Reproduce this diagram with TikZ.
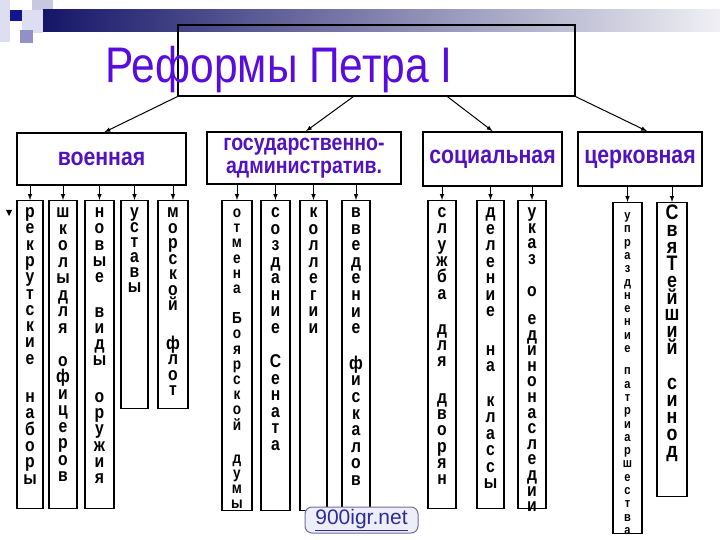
\documentclass[tikz,border=0pt]{standalone}
\usepackage{fontspec}
\setmainfont[FakeStretch=0.85]{Liberation Sans}
\newfontfamily\wmfont{Liberation Sans}
\usetikzlibrary{arrows}

\definecolor{titleviolet}{RGB}{88,12,222}
\definecolor{catviolet}{RGB}{82,18,190}
\definecolor{bandnavy}{RGB}{22,22,105}
\definecolor{bandgray}{RGB}{135,135,170}
\definecolor{bandlight}{RGB}{240,240,244}
\definecolor{sqdark}{RGB}{20,20,140}
\definecolor{sqmid}{RGB}{145,145,200}
\definecolor{sqlight}{RGB}{222,222,242}
\definecolor{sqgray}{RGB}{200,200,225}
\definecolor{wmline}{RGB}{110,110,160}
\definecolor{wmfill}{RGB}{238,238,250}
\definecolor{wmtext}{RGB}{45,45,150}

\tikzset{
  catbox/.style={draw, line width=1.8pt, inner sep=0pt, align=center, text=catviolet,
    font=\bfseries\fontsize{25}{28}\selectfont},
  col/.style={draw, line width=1.1pt, anchor=north, inner xsep=0pt, inner ysep=2pt,
    align=center, text height=15pt},
  link/.style={->, line width=1pt}
}

\begin{document}
\begin{tikzpicture}[x=1pt,y=-1pt,>=latex]
\useasboundingbox (0,0) rectangle (720,540);

% squares and band at the top
\fill[sqlight] (0,0) rectangle (10,42);
\fill[sqgray] (32,0) rectangle (53,22);
\fill[sqlight] (22,10) rectangle (43,33);
\fill[sqdark] (10,10) rectangle (22,21);
\fill[sqmid] (20,30) rectangle (33,43);
\shade[left color=bandnavy, middle color=bandgray, right color=bandlight] (43,10) rectangle (720,32);

% title
\node[draw, line width=1.2pt, minimum width=397pt, minimum height=71pt, inner sep=0pt] (reforms) at (376.5,60.5) {};
\node[anchor=base, text=titleviolet, font=\fontsize{50}{50}\selectfont] (title) at (279,83) {Реформы Петра I};

% the four kinds of reforms
\node[catbox, minimum width=169pt, minimum height=52pt] (voen) at (101.5,159) {военная};
\node[catbox, minimum width=194pt, minimum height=52pt, font=\bfseries\fontsize{23}{23}\selectfont] (gos) at (304,158) {государственно-\\административ.};
\node[catbox, minimum width=139pt, minimum height=54pt] (soc) at (492.5,159) {социальная};
\node[catbox, minimum width=124pt, minimum height=54pt] (cer) at (640,159) {церковная};

\draw[link] (reforms.south west) -- ([xshift=3pt]voen.north);
\draw[link] ([xshift=176pt]reforms.south west) -- ([xshift=2pt]gos.north);
\draw[link] ([xshift=270pt]reforms.south west) -- (soc.north);
\draw[link] (reforms.south east) -- ([xshift=7pt]cer.north);

% military
\node[col, text width=26pt, text depth=289pt, font=\bfseries\fontsize{18.5}{16.3}\selectfont] (rek) at (30,200)
  {р\\е\\к\\р\\у\\т\\с\\к\\и\\е\\[22pt]н\\а\\б\\о\\р\\ы};
\node[col, text width=28pt, text depth=289pt, font=\bfseries\fontsize{18.5}{16.5}\selectfont] (shk) at (63,200)
  {ш\\к\\о\\л\\ы\\д\\л\\я\\[16.5pt]о\\ф\\и\\ц\\е\\р\\о\\в};
\node[col, text width=29pt, text depth=289pt, font=\bfseries\fontsize{18.5}{16.3}\selectfont] (nov) at (99.5,200)
  {н\\о\\в\\ы\\е\\[18pt]в\\и\\д\\ы\\[20pt]о\\р\\у\\ж\\и\\я};
\node[col, text width=27pt, text depth=189pt, font=\bfseries\fontsize{18.5}{15}\selectfont] (ust) at (134.5,200)
  {у\\с\\т\\а\\в\\ы};
\node[col, text width=30pt, text depth=189pt, font=\bfseries\fontsize{18.5}{15.5}\selectfont] (mor) at (173,200)
  {м\\о\\р\\с\\к\\о\\й\\[23pt]ф\\л\\о\\т};

% state
\node[col, text width=30pt, text depth=291pt, font=\bfseries\fontsize{16}{15.2}\selectfont] (otm) at (237,200)
  {о\\т\\м\\е\\н\\а\\[15pt]Б\\о\\я\\р\\с\\к\\о\\й\\[18pt]д\\у\\м\\ы};
\node[col, text width=29pt, text depth=291pt, font=\bfseries\fontsize{18.5}{16.5}\selectfont] (soz) at (275.5,200)
  {с\\о\\з\\д\\а\\н\\и\\е\\[18pt]С\\е\\н\\а\\т\\а};
\node[col, text width=27pt, text depth=291pt, font=\bfseries\fontsize{18.5}{16.5}\selectfont] (kol) at (313.5,200)
  {к\\о\\л\\л\\е\\г\\и\\и};
\node[col, text width=28pt, text depth=291pt, font=\bfseries\fontsize{18.5}{16.6}\selectfont] (vve) at (356,200)
  {в\\в\\е\\д\\е\\н\\и\\е\\[19pt]ф\\и\\с\\к\\а\\л\\о\\в};

% social
\node[col, text width=28pt, text depth=289pt, font=\bfseries\fontsize{18.5}{16.3}\selectfont] (slu) at (442,200)
  {с\\л\\у\\ж\\б\\а\\[19pt]д\\л\\я\\[20pt]д\\в\\о\\р\\я\\н};
\node[col, text width=27pt, text depth=289pt, font=\bfseries\fontsize{18.5}{16.5}\selectfont] (del) at (490.5,200)
  {д\\е\\л\\е\\н\\и\\е\\[22pt]н\\а\\[18pt]к\\л\\а\\с\\с\\ы};
\node[col, text width=28pt, text depth=289pt, font=\bfseries\fontsize{18.5}{15.6}\selectfont] (uka) at (532,200)
  {у\\к\\а\\з\\[17pt]о\\[12pt]е\\д\\и\\н\\о\\н\\а\\с\\л\\е\\д\\и\\и};

% church
\node[col, text width=29pt, text depth=312pt, font=\bfseries\fontsize{13}{13.3}\selectfont] (upr) at (627.5,202)
  {у\\п\\р\\а\\з\\д\\н\\е\\н\\и\\е\\[9pt]п\\а\\т\\р\\и\\а\\р\\ш\\е\\с\\т\\в\\а};
\node[col, text width=30pt, text depth=275pt, font=\bfseries\fontsize{21}{16.9}\selectfont] (svy) at (672,202)
  {С\\в\\я\\Т\\е\\й\\ш\\и\\й\\[18pt]с\\и\\н\\о\\д};

\foreach \c in {rek,shk,nov,ust,mor}
  \draw[link] (voen.south -| \c.north) -- (\c.north);
\foreach \c in {otm,soz,kol,vve}
  \draw[link] (gos.south -| \c.north) -- (\c.north);
\foreach \c in {slu,del,uka}
  \draw[link] (soc.south -| \c.north) -- (\c.north);
\foreach \c in {upr,svy}
  \draw[link] (cer.south -| \c.north) -- (\c.north);

\fill (6,210) -- (12,210) -- (9,216) -- cycle;

% site mark
\node[draw=wmline, fill=wmfill, rounded corners=7pt, line width=1pt, minimum width=113pt, minimum height=26pt,
  inner sep=0pt, text=wmtext, font=\wmfont\fontsize{21}{21}\selectfont] (wm) at (361.5,520) {\underline{900igr.net}};
\end{tikzpicture}
\end{document}
